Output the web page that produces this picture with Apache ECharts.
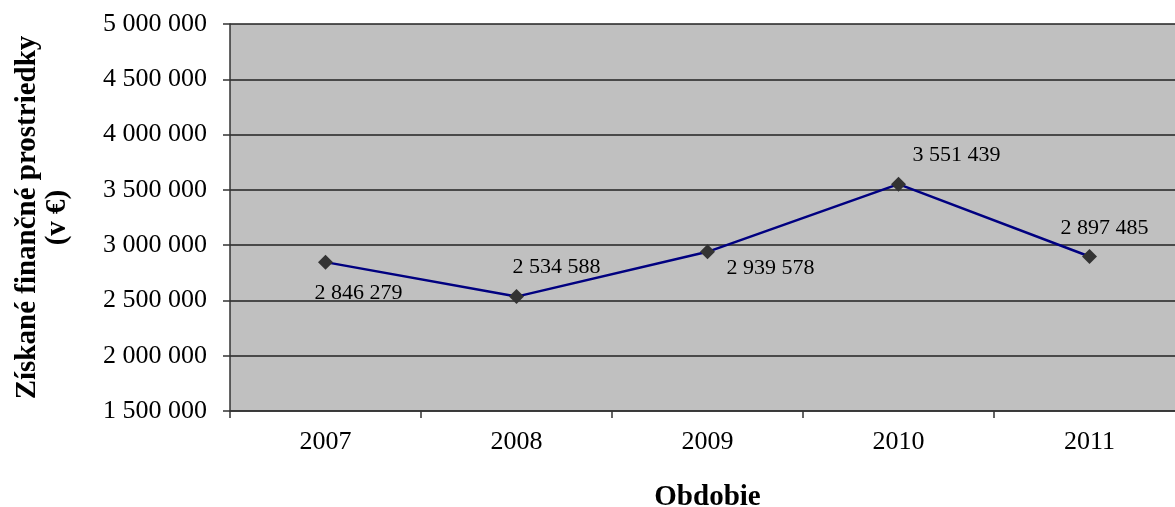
<!DOCTYPE html>
<html>
<head>
<meta charset="utf-8">
<script src="https://cdn.jsdelivr.net/npm/echarts@6/dist/echarts.min.js"></script>
<style>
  html, body { margin: 0; padding: 0; background: #ffffff; }
  #chart { width: 1175px; height: 507px; }
</style>
</head>
<body>
<div id="chart"></div>
<script>
// Funds raised per year
const years = ['2007', '2008', '2009', '2010', '2011'];
const funds = [2846279, 2534588, 2939578, 3551439, 2897485];
// Where each value label sits relative to its marker (dx, dy)
const labelOffsets = [[33, 31], [40, -29], [63, 16], [58, -29], [15, -28]];

const yMin = 1500000;
const yMax = 5000000;
const yStep = 500000;

function spaced(n) {
  return String(n).replace(/\B(?=(\d{3})+(?!\d))/g, ' ');
}

const serif = '"Liberation Serif", "DejaVu Serif", serif';

const chart = echarts.init(document.getElementById('chart'), null, { renderer: 'canvas' });

chart.setOption({
  animation: false,
  backgroundColor: '#ffffff',
  grid: {
    left: 230,
    top: 24,
    right: -10,
    bottom: 96,
    containLabel: false,
    outerBoundsMode: 'none',
    show: true,
    backgroundColor: '#c0c0c0',
    borderWidth: 0
  },
  xAxis: {
    type: 'category',
    data: years,
    boundaryGap: true,
    name: 'Obdobie',
    nameLocation: 'middle',
    nameGap: 72,
    nameTextStyle: { fontFamily: serif, fontSize: 29, fontWeight: 'bold', color: '#000' },
    axisLine: { show: true, lineStyle: { color: '#333', width: 1.5 } },
    axisTick: { show: true, length: 7, lineStyle: { color: '#333', width: 1.5 } },
    axisLabel: { fontFamily: serif, fontSize: 26, color: '#000', margin: 18 },
    splitLine: { show: false }
  },
  yAxis: {
    type: 'value',
    min: yMin,
    max: yMax,
    interval: yStep,
    name: 'Získané finančné prostriedky\n(v €)',
    nameLocation: 'middle',
    nameRotate: 90,
    nameGap: 157,
    nameTextStyle: { fontFamily: serif, fontSize: 29, fontWeight: 'bold', color: '#000', lineHeight: 30 },
    axisLine: { show: true, lineStyle: { color: '#333', width: 1.5 } },
    axisTick: { show: true, length: 7, lineStyle: { color: '#333', width: 1.5 } },
    axisLabel: {
      fontFamily: serif, fontSize: 26, color: '#000', margin: 23,
      formatter: v => spaced(v)
    },
    splitLine: { show: true, lineStyle: { color: '#222', width: 1.5 } }
  },
  series: [{
    type: 'line',
    data: funds.map((v, i) => ({
      value: v,
      label: {
        show: true,
        position: 'inside',
        offset: labelOffsets[i],
        formatter: p => spaced(p.value),
        fontFamily: serif,
        fontSize: 22,
        color: '#000'
      }
    })),
    lineStyle: { color: '#000080', width: 2.5 },
    symbol: 'diamond',
    symbolSize: 15,
    itemStyle: { color: '#333333', borderWidth: 0 },
    z: 3
  }]
});
</script>
</body>
</html>
